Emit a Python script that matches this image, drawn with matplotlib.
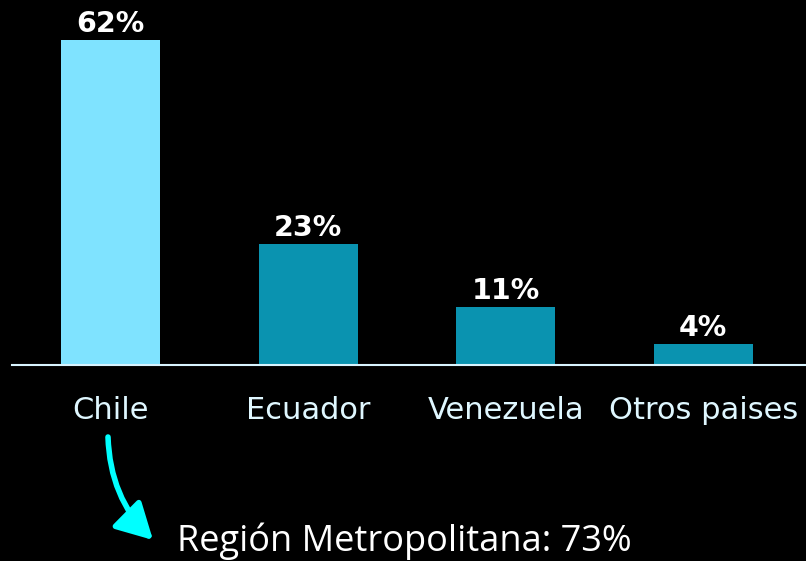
import matplotlib
matplotlib.use('Agg')
import matplotlib.pyplot as plt
from matplotlib.patches import FancyArrowPatch

categories = ['Chile', 'Ecuador', 'Venezuela', 'Otros paises']
values = [62, 23, 11, 4]
value_labels = ['62%', '23%', '11%', '4%']
note = 'Región Metropolitana: 73%'

colors = ['#7fe3ff', '#0a93b0', '#0a93b0', '#0a93b0']

fig = plt.figure(figsize=(8.06, 5.61), dpi=100, facecolor='black')
ax = fig.add_axes([12 / 806, 196 / 561, 794 / 806, 365 / 561])
ax.set_facecolor('black')

x = range(len(categories))
ax.bar(x, values, width=0.5, color=colors)
for i, (v, lab) in enumerate(zip(values, value_labels)):
    ax.text(i, v + 0.4, lab, ha='center', va='bottom', color='white',
            fontsize=20.5, fontweight='heavy')

ax.set_xlim(-0.50, 3.52)
ax.set_ylim(0, 69.6)
for s in ['top', 'right', 'left']:
    ax.spines[s].set_visible(False)
ax.spines['bottom'].set_color('#d8f4ff')
ax.spines['bottom'].set_linewidth(1.5)
ax.set_yticks([])
ax.set_xticks(list(x))
ax.set_xticklabels(categories, color='#dff7ff', fontsize=22)
ax.tick_params(axis='x', length=0, pad=22)

fig.text(177 / 806, 1 - 541 / 561, note, color='white', fontsize=26,
         va='center', ha='left', family=['Open Sans', 'DejaVu Sans'])

arrow = FancyArrowPatch((108 / 806, 1 - 437 / 561), (153 / 806, 1 - 540 / 561),
                        transform=fig.transFigure, connectionstyle='arc3,rad=0.2',
                        arrowstyle='-|>,head_length=22,head_width=12',
                        color='#00ffff', lw=4, shrinkA=0, shrinkB=0)
fig.patches.append(arrow)

fig.savefig('out.png', dpi=100, facecolor='black')
